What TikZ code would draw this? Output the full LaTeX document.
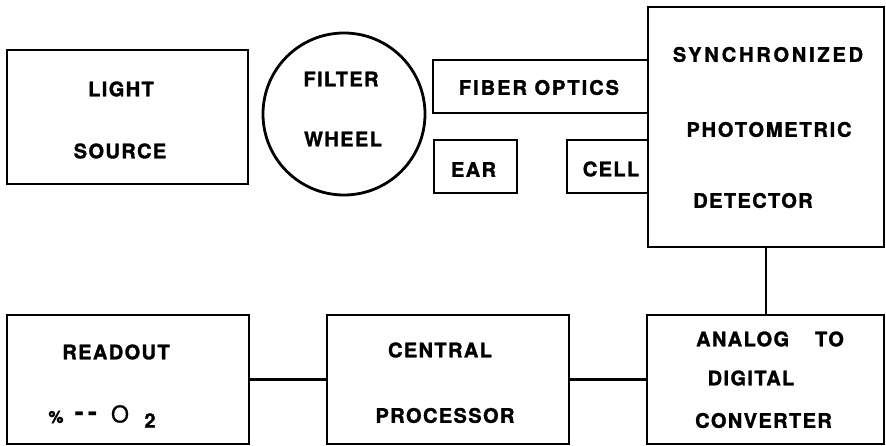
\documentclass[tikz,border=0pt]{standalone}
\usepackage{fontspec}
\setmainfont{TeX Gyre Heros}
\begin{document}
\begin{tikzpicture}[x=1pt,y=-1pt,
  box/.style={draw, line width=2.8pt, rectangle, inner sep=0pt},
  wheelbox/.style={draw, line width=2.8pt, circle, inner sep=0pt, minimum size=162pt},
  lbl/.style={inner sep=0pt, anchor=center, font=\fontsize{20}{24}\selectfont\bfseries\addfontfeature{LetterSpace=7,FakeBold=1.5}},
  conn/.style={line width=2.8pt}]
\useasboundingbox (0,0) rectangle (886,446);
% boxes
\node[box, minimum width=241pt, minimum height=134pt] (light) at (127.5,117) {};
\node[wheelbox] (wheel) at (344,114) {};
\node[box, minimum width=215pt, minimum height=53pt] (fiber) at (540.5,86.5) {};
\node[box, minimum width=83pt, minimum height=53pt] (ear) at (475.5,166.5) {};
\node[box, minimum width=81pt, minimum height=53pt] (cell) at (607.5,166.5) {};
\node[box, minimum width=236pt, minimum height=240pt] (det) at (766,127) {};
\node[box, minimum width=242pt, minimum height=129pt] (readout) at (128,379.5) {};
\node[box, minimum width=242pt, minimum height=129pt] (central) at (448,379.5) {};
\node[box, minimum width=237pt, minimum height=129pt] (adc) at (765.5,379.5) {};
% connectors
\draw[conn] (det.south) -- (det.south |- adc.north);
\draw[conn] (readout.east) -- (central.west);
\draw[conn] (central.east) -- (adc.west);
% labels
\node[lbl] (tlight) at (121,89) {LIGHT};
\node[lbl] (tsource) at (120,151) {SOURCE};
\node[lbl] (tfilter) at (341,79) {FILTER};
\node[lbl] (twheel) at (343,139) {WHEEL};
\node[lbl, font=\fontsize{20}{24}\selectfont\bfseries\addfontfeature{LetterSpace=10,FakeBold=1.5}] (tfiber) at (539,87.5) {FIBER OPTICS};
\node[lbl] (tear) at (473.5,169.5) {EAR};
\node[lbl] (tcell) at (611,169) {CELL};
\node[lbl, font=\fontsize{20}{24}\selectfont\bfseries\addfontfeature{LetterSpace=14,FakeBold=1.5}] (tsync) at (768,54.5) {SYNCHRONIZED};
\node[lbl, font=\fontsize{20}{24}\selectfont\bfseries\addfontfeature{LetterSpace=9,FakeBold=1.5}] (tphoto) at (769,129.5) {PHOTOMETRIC};
\node[lbl] (tdet) at (753,200.5) {DETECTOR};
\node[lbl] (tread) at (116,352) {READOUT};
\node[lbl, font=\fontsize{17}{20}\selectfont\bfseries\addfontfeature{FakeBold=1.5}] (tpct) at (56,417) {\%};
\node[lbl, font=\fontsize{28}{30}\selectfont\bfseries] (tdash) at (86,417) {-\hspace{4pt}-};
\node[lbl, font=\fontsize{23}{26}\selectfont\addfontfeature{FakeBold=1}] (to) at (120,414) {O};
\node[lbl] (ttwo) at (150,420.5) {2};
\node[lbl] (tcentral) at (440,350) {CENTRAL};
\node[lbl] (tproc) at (445,415.5) {PROCESSOR};
\node[lbl] (tanalog) at (770,339) {ANALOG\hspace{26pt}TO};
\node[lbl] (tdigital) at (751,378) {DIGITAL};
\node[lbl] (tconv) at (763.5,420.5) {CONVERTER};
\end{tikzpicture}
\end{document}
